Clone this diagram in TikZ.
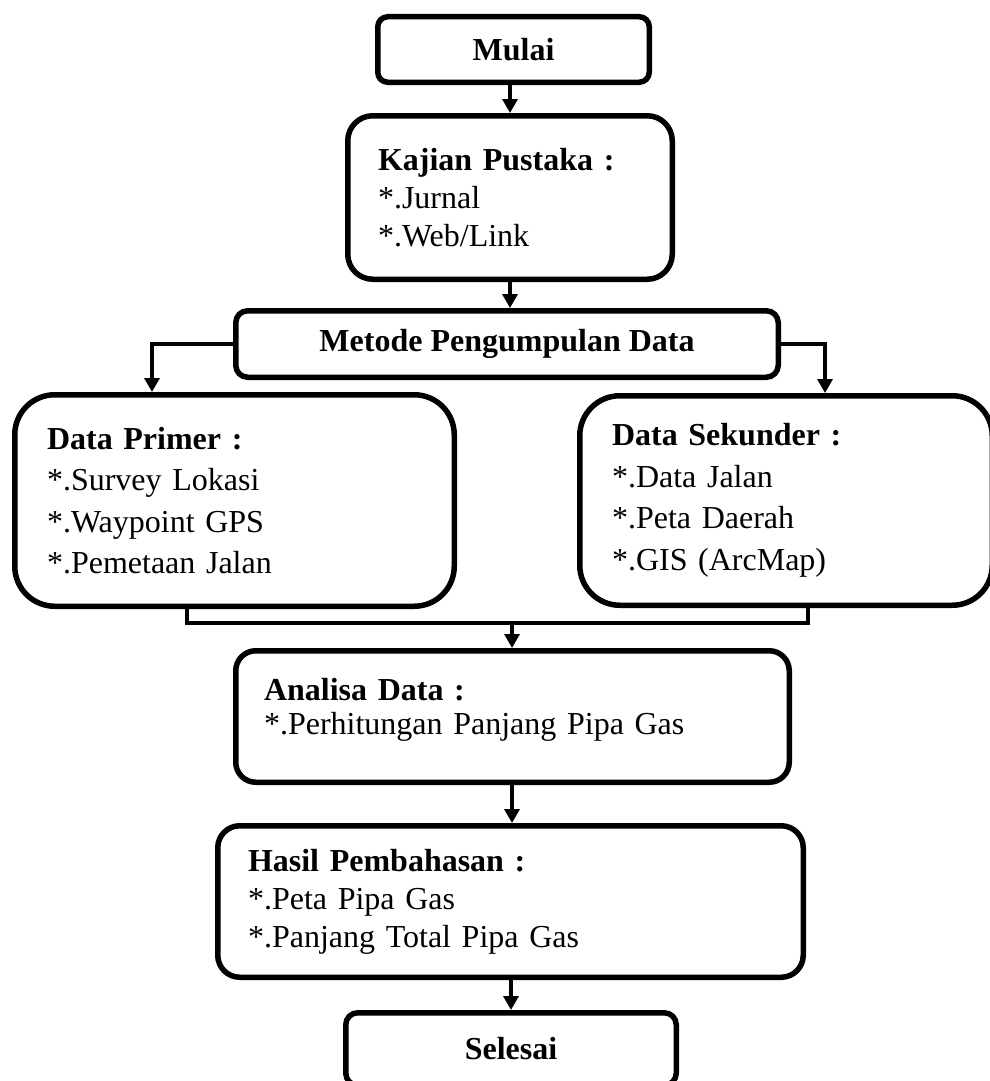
\documentclass[tikz,border=0pt]{standalone}
\usepackage{fontspec}
\setmainfont{Liberation Serif}
\usetikzlibrary{arrows.meta}
\begin{document}
\begin{tikzpicture}[x=1pt,y=-1pt,
  box/.style={draw, line width=5.5pt, rounded corners=#1, fill=white, inner sep=0pt,
    align=left, font=\fontsize{32}{38}\selectfont},
  box/.default=12pt,
  conn/.style={line width=3.4pt},
  arr/.style={conn, -{Triangle[length=14pt,width=15pt]}}]
\useasboundingbox (0,0) rectangle (990,1081);
% boxes
\node[box=10pt, minimum width=271.5pt, minimum height=65.5pt, align=center] (mulai) at (513.5,49.5) {\textbf{Mulai}};
\node[box=25pt, minimum width=324.5pt, minimum height=163.5pt, text width=264pt] (kajian) at (510,197.5)
  {\textbf{Kajian Pustaka :}\\{*}.Jurnal\\{*}.Web/Link};
\node[box=12pt, minimum width=542.5pt, minimum height=66.5pt, align=center] (metode) at (507,344)
  {\textbf{Metode Pengumpulan Data}};
\node[box=40pt, minimum width=439.5pt, minimum height=211.5pt, text width=375pt,
  font=\fontsize{32}{41.5}\selectfont] (primer) at (234.5,500.5)
  {\textbf{Data Primer :}\\{*}.Survey Lokasi\\{*}.Waypoint GPS\\{*}.Pemetaan Jalan};
\node[box=40pt, minimum width=412.5pt, minimum height=209.5pt, text width=348pt,
  font=\fontsize{32}{41.5}\selectfont] (sekunder) at (786,500.5)
  {\textbf{Data Sekunder :}\\{*}.Data Jalan\\{*}.Peta Daerah\\{*}.GIS (ArcMap)};
\node[box=20pt, minimum width=553.5pt, minimum height=131.5pt, text width=497pt,
  font=\fontsize{32}{34}\selectfont] (analisa) at (512.5,716.5)
  {\textbf{Analisa Data :}\\{*}.Perhitungan Panjang Pipa Gas\\[-14pt]\mbox{}};
\node[box=22pt, minimum width=585.5pt, minimum height=151.5pt, text width=525pt] (hasil) at (510.5,901.5)
  {\textbf{Hasil Pembahasan :}\\{*}.Peta Pipa Gas\\{*}.Panjang Total Pipa Gas};
\node[box=12pt, minimum width=330.5pt, minimum height=72.5pt, align=center] (selesai) at (511,1049)
  {\textbf{Selesai}};
% helper coordinates
\coordinate (pl) at (152,0);
\coordinate (pr) at (825,0);
\coordinate (ml) at (187,0);
\coordinate (mr) at (808,0);
\coordinate (mm) at (512,623);
% connectors
\draw[arr] (mulai.south -| kajian.north) -- (kajian.north);
\draw[arr] (kajian.south) -- (kajian.south |- metode.north);
\draw[arr] (metode.west) -| (pl |- primer.north);
\draw[arr] (metode.east) -| (pr |- sekunder.north);
\draw[conn] (ml |- primer.south) |- (mm) -| (mr |- sekunder.south);
\draw[arr] (mm) -- (mm |- analisa.north);
\draw[arr] (mm |- analisa.south) -- (mm |- hasil.north);
\draw[arr] (selesai.north |- hasil.south) -- (selesai.north);
\end{tikzpicture}
\end{document}
